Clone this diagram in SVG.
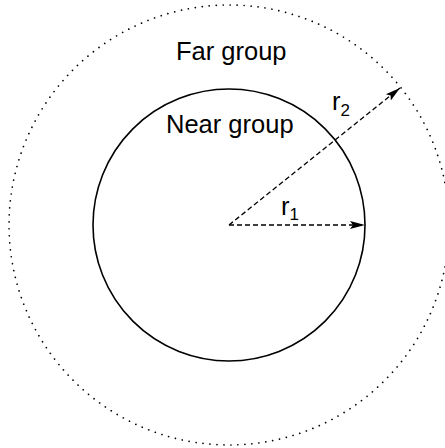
<svg xmlns="http://www.w3.org/2000/svg" width="445" height="448" viewBox="0 0 445 448">
<style>
.lbl{font-family:"Liberation Sans",Arial,sans-serif;font-size:25.5px;fill:#000}
.sub{font-size:17px}
.dash{stroke:#000;stroke-width:1.3;stroke-dasharray:5,3;fill:none}
</style>
<defs>
<marker id="ah" markerWidth="16" markerHeight="10" refX="15" refY="5" orient="auto" markerUnits="userSpaceOnUse">
<path d="M0,1 L15,5 L0,9 L3,5 Z" fill="#000"/>
</marker>
</defs>
<rect width="445" height="448" fill="#fff"/>
<g id="far">
<circle cx="229" cy="225" r="220" fill="none" stroke="#000" stroke-width="1.7" stroke-dasharray="0.01,7" stroke-linecap="round"/>
<text class="lbl" x="176" y="60">Far group</text>
</g>
<g id="near">
<circle cx="229" cy="225" r="136" fill="none" stroke="#000" stroke-width="1.6"/>
<text class="lbl" x="166" y="133">Near group</text>
</g>
<g id="connectors">
<line class="dash" x1="229" y1="225" x2="365" y2="225" marker-end="url(#ah)"/>
<line class="dash" x1="229" y1="225" x2="400" y2="88" marker-end="url(#ah)"/>
<text class="lbl" x="281" y="215">r<tspan class="sub" dy="5">1</tspan></text>
<text class="lbl" x="332" y="110">r<tspan class="sub" dy="6">2</tspan></text>
</g>
</svg>
